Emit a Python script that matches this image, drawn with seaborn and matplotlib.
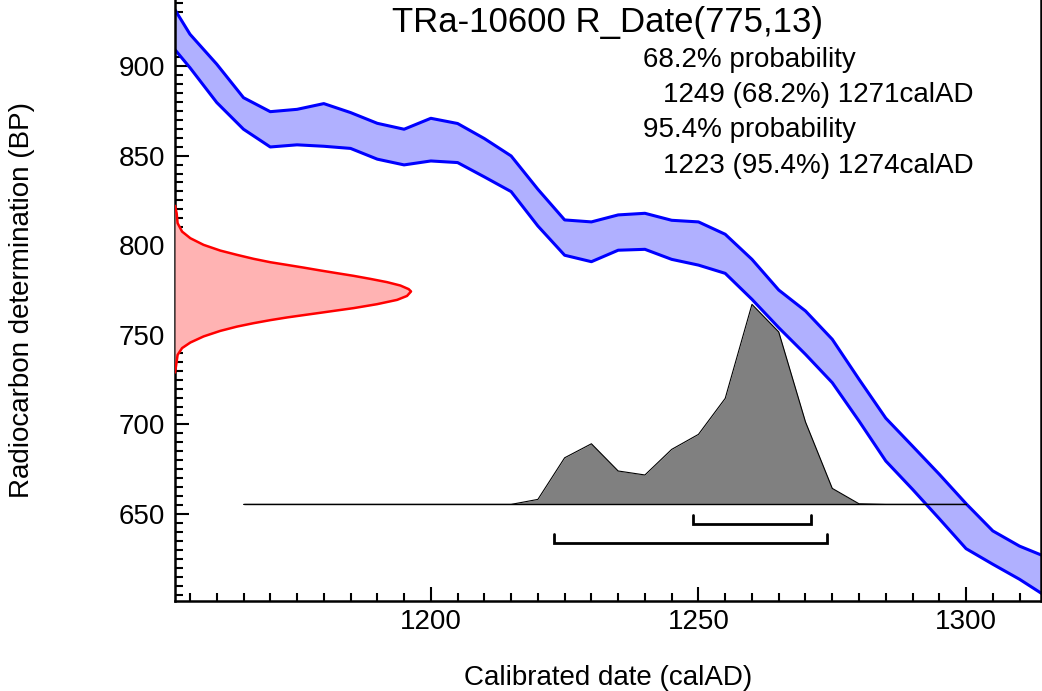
import numpy as np
import pandas as pd
import seaborn as sns
import matplotlib
matplotlib.use('Agg')
import matplotlib.pyplot as plt
from matplotlib.ticker import MultipleLocator

sns.set_theme(style='white')
plt.rcParams['font.family'] = ['Liberation Sans', 'DejaVu Sans']
plt.rcParams['text.color'] = 'black'
plt.rcParams['xtick.color'] = 'black'
plt.rcParams['ytick.color'] = 'black'

# calibration curve (IntCal), 5-year steps, upper and lower 1-sigma edges in BP
curve_years = list(range(1150, 1320, 5))
curve_upper = [942, 917.7, 901, 882.3, 874.5, 875.8, 879, 874, 868, 864.7,
               870.8, 867.9, 859.5, 849.8, 831.2, 814.1, 813, 816.9, 817.8, 813.9,
               813, 806.1, 792.1, 775, 763.3, 747.5, 725.2, 703.5, 687.9, 672.2,
               655.8, 640.6, 632.1, 626]
curve_lower = [917, 899, 879.6, 864.7, 854.8, 856, 855.2, 854, 848, 844.8,
               847, 846.1, 838.1, 829.9, 810.7, 794.4, 790.8, 797.2, 797.7, 792.1,
               788.9, 784.3, 769.8, 754, 739.1, 723.3, 701.9, 679.6, 663.8, 647.4,
               630.7, 622, 613.6, 604]

rdate_bp = [822, 817.8, 812.3, 807.6, 803.9, 800.2, 797.0, 794.6, 792.4, 790.5,
            789.0, 787.5, 785.9, 784.4, 782.9, 781.2, 779.4, 777.5, 775.5, 774.2,
            771.7, 769.5, 767.1, 764.9, 763.6, 762.3, 761.0, 759.7, 758.2, 756.5,
            754.6, 752.2, 749.1, 745.7, 742.6, 738.8, 732.3, 729]
rdate_dens = [0, 0.007, 0.011, 0.030, 0.065, 0.121, 0.192, 0.263, 0.333, 0.404,
              0.475, 0.545, 0.616, 0.686, 0.757, 0.828, 0.898, 0.955, 0.99, 1.0,
              0.983, 0.941, 0.856, 0.757, 0.686, 0.616, 0.545, 0.475, 0.404, 0.333,
              0.263, 0.192, 0.121, 0.065, 0.030, 0.011, 0.004, 0]

# calibrated distribution, relative probability
cal_years = list(range(1165, 1305, 5))
cal_prob = [0, 0, 0, 0, 0, 0, 0, 0, 0, 0,
            0, 0.025, 0.233, 0.303, 0.167, 0.147, 0.275, 0.35, 0.53, 1.0,
            0.862, 0.412, 0.08, 0.003, 0, 0, 0, 0]

# highest posterior density ranges
range_68 = (1249, 1271)
range_95 = (1223, 1274)

title = 'TRa-10600 R_Date(775,13)'
summary_lines = ['68.2% probability', '1249 (68.2%) 1271calAD',
                 '95.4% probability', '1223 (95.4%) 1274calAD']

xlim = (1152.2, 1314)
ylim = (601.5, 936.8)
cal_base = 655.4
cal_height = 111.6
rdate_width = 44.1

curve = pd.DataFrame({'year': curve_years, 'upper': curve_upper, 'lower': curve_lower})

fig = plt.figure(figsize=(10.42, 6.91), dpi=100)
ax = fig.add_axes([175 / 1042, 90 / 691, 866 / 1042, 601 / 691])

# calibration band
ax.fill_between(curve['year'], curve['lower'], curve['upper'], color='#b0b0ff', lw=0, zorder=1)
sns.lineplot(data=curve, x='year', y='upper', color='#0000ff', lw=2.2, ax=ax, zorder=2)
sns.lineplot(data=curve, x='year', y='lower', color='#0000ff', lw=2.2, ax=ax, zorder=2)

# measurement on the y axis
rx = xlim[0] + np.array(rdate_dens) * rdate_width
ax.fill_betweenx(rdate_bp, xlim[0], rx, color='#ffb3b3', lw=0, zorder=3)
ax.plot(rx, rdate_bp, color='#ff0000', lw=1.8, zorder=4)

# calibrated distribution
cy = cal_base + np.array(cal_prob) * cal_height
ax.fill_between(cal_years, cal_base, cy, color='#808080', lw=0, zorder=5)
ax.plot(cal_years, cy, color='black', lw=0.8, zorder=6)
ax.plot([cal_years[0], cal_years[-1]], [cal_base, cal_base], color='black', lw=1.0, zorder=6)

# range brackets
for (a, b), yb in [(range_68, 644.3), (range_95, 634.0)]:
    ax.plot([a, a, b, b], [yb + 5, yb, yb, yb + 5], color='black', lw=2, zorder=6,
            solid_joinstyle='miter')

ax.set_xlim(*xlim)
ax.set_ylim(*ylim)
ax.xaxis.set_major_locator(MultipleLocator(50))
ax.xaxis.set_minor_locator(MultipleLocator(5))
ax.yaxis.set_major_locator(MultipleLocator(50))
ax.yaxis.set_minor_locator(MultipleLocator(5))
ax.tick_params(which='both', direction='in', width=1.5, color='black', labelcolor='black',
               bottom=True, left=True, top=False, right=False)
ax.tick_params(which='major', length=10, labelsize=20)
ax.tick_params(axis='x', which='major', pad=6)
ax.tick_params(axis='y', which='major', pad=7)
ax.tick_params(which='minor', length=5.5)
for s in ['left', 'bottom', 'right']:
    ax.spines[s].set_color('black')
    ax.spines[s].set_linewidth(1.8)
ax.spines['top'].set_visible(False)
ax.set_xlabel('')
ax.set_ylabel('')
ax.grid(False)

ax.text(0.5, 1 - 32 / 601, title, transform=ax.transAxes, ha='center', va='baseline',
        fontsize=25, color='black')
for txt, xp, yp in zip(summary_lines, [643, 663, 643, 663], [67, 102, 137, 173]):
    ax.text((xp - 175) / 866, 1 - yp / 601, txt, transform=ax.transAxes,
            ha='left', va='baseline', fontsize=20, color='black')

fig.text(608 / 1042, 1 - 685 / 691, 'Calibrated date (calAD)', ha='center', va='baseline',
         fontsize=20, color='black')
fig.text(22 / 1042, 1 - 300 / 691, 'Radiocarbon determination (BP)', ha='center', va='center',
         rotation=90, fontsize=20, color='black')

fig.savefig('out.png', dpi=100)
